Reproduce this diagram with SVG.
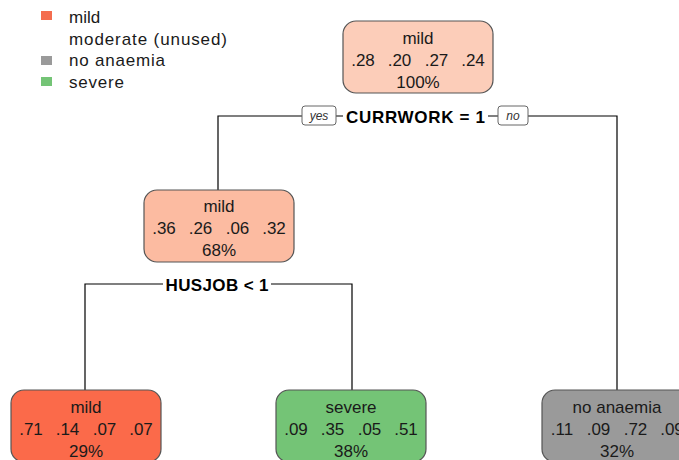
<svg xmlns="http://www.w3.org/2000/svg" width="679" height="460" viewBox="0 0 679 460">
<style>
text{font-family:"Liberation Sans",Arial,sans-serif;fill:#1a1a1a}
.lg{font-size:17px}
.nt{font-size:17px;text-anchor:middle}
.sp{font-size:17px;font-weight:bold;text-anchor:middle;fill:#000}
.yn{font-size:12px;font-style:italic;text-anchor:middle;fill:#333}
.box{stroke:#555;stroke-width:1.2}
.ynb{fill:#fff;stroke:#666;stroke-width:1}
.e{stroke:#000;stroke-width:1.2;fill:none}
</style>
<rect width="679" height="460" fill="#fff"/>
<g id="legend">
<rect x="41" y="11" width="11" height="9" fill="#F46D4F"/>
<text class="lg" x="69" y="23">mild</text>
<text class="lg" x="69" y="45" textLength="158">moderate (unused)</text>
<rect x="41" y="56" width="11" height="9" fill="#9A9A9A"/>
<text class="lg" x="69" y="66" textLength="96">no anaemia</text>
<rect x="41" y="77" width="11" height="9" fill="#74C476"/>
<text class="lg" x="69" y="88" textLength="55">severe</text>
</g>
<g id="connectors">
<path class="e" d="M218,190 V116 H302 M336,116 H343 M488,116 H498 M528,116 H617 V390"/>
<path class="e" d="M85,390 V284 H163 M271,284 H352 V390"/>
<rect class="ynb" x="302" y="106" width="34" height="19" rx="3"/>
<text class="yn" x="319" y="120">yes</text>
<rect class="ynb" x="498" y="106" width="30" height="19" rx="3"/>
<text class="yn" x="513" y="120">no</text>
<text class="sp" x="415.5" y="123" textLength="139">CURRWORK = 1</text>
<text class="sp" x="217" y="291" textLength="103">HUSJOB &lt; 1</text>
</g>
<g id="node1">
<rect class="box" x="343" y="21" width="150" height="72" rx="13" fill="#FCCDB9"/>
<text class="nt" x="418" y="44">mild</text>
<text class="nt" x="363" y="66">.28</text><text class="nt" x="399.5" y="66">.20</text><text class="nt" x="436.5" y="66">.27</text><text class="nt" x="473" y="66">.24</text>
<text class="nt" x="418" y="88">100%</text>
</g>
<g id="node2">
<rect class="box" x="144" y="190" width="150" height="72" rx="13" fill="#FCBBA1"/>
<text class="nt" x="219" y="212">mild</text>
<text class="nt" x="164" y="234">.36</text><text class="nt" x="200.5" y="234">.26</text><text class="nt" x="237.5" y="234">.06</text><text class="nt" x="274" y="234">.32</text>
<text class="nt" x="219" y="256">68%</text>
</g>
<g id="node4">
<rect class="box" x="11" y="390" width="150" height="72" rx="13" fill="#FB6A4A"/>
<text class="nt" x="86" y="413">mild</text>
<text class="nt" x="31" y="435">.71</text><text class="nt" x="67.5" y="435">.14</text><text class="nt" x="104.5" y="435">.07</text><text class="nt" x="141" y="435">.07</text>
<text class="nt" x="86" y="457">29%</text>
</g>
<g id="node5">
<rect class="box" x="276" y="390" width="150" height="72" rx="13" fill="#74C476"/>
<text class="nt" x="351" y="413">severe</text>
<text class="nt" x="296" y="435">.09</text><text class="nt" x="332.5" y="435">.35</text><text class="nt" x="369.5" y="435">.05</text><text class="nt" x="406" y="435">.51</text>
<text class="nt" x="351" y="457">38%</text>
</g>
<g id="node3">
<rect class="box" x="542" y="390" width="150" height="72" rx="13" fill="#9A9A9A"/>
<text class="nt" x="617" y="413">no anaemia</text>
<text class="nt" x="562" y="435">.11</text><text class="nt" x="598.5" y="435">.09</text><text class="nt" x="635.5" y="435">.72</text><text class="nt" x="672" y="435">.09</text>
<text class="nt" x="617" y="457">32%</text>
</g>
</svg>
